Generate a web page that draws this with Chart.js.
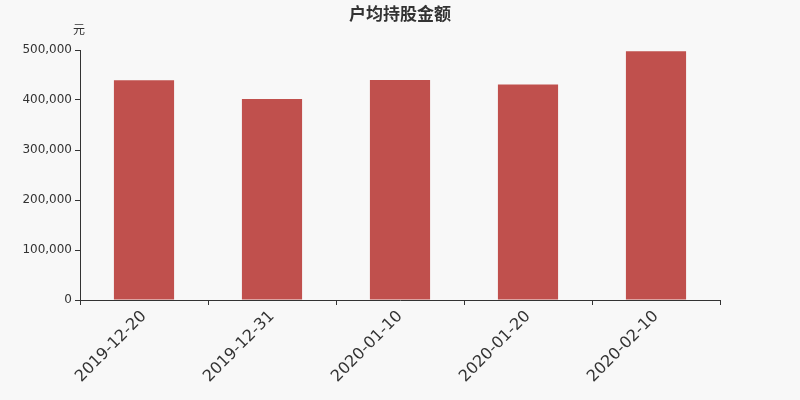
<!DOCTYPE html>
<html>
<head>
<meta charset="utf-8">
<script src="https://cdn.jsdelivr.net/npm/chart.js@4/dist/chart.umd.min.js"></script>
<style>
  html, body { margin: 0; padding: 0; background: #f8f8f8; }
  #wrap { width: 800px; height: 400px; }
</style>
</head>
<body>
<div id="wrap"><canvas id="c"></canvas></div>
<script>
var dates = ["2019-12-20", "2019-12-31", "2020-01-10", "2020-01-20", "2020-02-10"];
var amounts = [439500, 402000, 440000, 431000, 497500];
var yTicks = [0, 100000, 200000, 300000, 400000, 500000];
var chartTitle = "户均持股金额";
var unitLabel = "元";

var textPlugin = {
    id: 'textPlugin',
    afterDraw: function(chart){
        var ctx = chart.ctx;
        ctx.save();
        ctx.fillStyle = '#333';
        ctx.textAlign = 'center';
        ctx.textBaseline = 'middle';
        ctx.font = 'bold 17px "Noto Sans CJK SC"';
        ctx.fillText(chartTitle, 400, 14);
        ctx.font = '12px "Noto Sans CJK SC"';
        ctx.fillText(unitLabel, 79, 29);
        ctx.restore();
    }
};

var ctx = document.getElementById("c");
var myChart = new Chart(ctx, {
    type: 'bar',
    data: {
        labels: dates,
        datasets: [{
            label: chartTitle,
            data: amounts,
            backgroundColor: '#c0504d',
            categoryPercentage: 0.47,
            barPercentage: 1
        }]
    },
    options: {
        responsive: true,
        maintainAspectRatio: false,
        animation: false,
        layout: { padding: { top: 50, right: 80, left: 0, bottom: 0 } },
        plugins: {
            legend: { display: false },
            tooltip: { enabled: false }
        },
        scales: {
            x: {
                grid: { display: true, drawOnChartArea: false, offset: true, color: '#333', tickLength: 5 },
                border: { color: '#333', width: 1 },
                ticks: { color: '#333', font: { family: 'DejaVu Sans', size: 16 }, maxRotation: 45, minRotation: 45, padding: 2 },
                afterFit: function(scale){ scale.height = 100; }
            },
            y: {
                min: 0,
                max: 500000,
                afterBuildTicks: function(scale){
                    scale.ticks = yTicks.map(function(v){ return { value: v }; });
                },
                grid: { display: true, drawOnChartArea: false, color: '#333', tickLength: 5 },
                border: { color: '#333', width: 1 },
                ticks: {
                    color: '#333',
                    font: { family: 'DejaVu Sans', size: 12 },
                    padding: 3,
                    callback: function(v){ return v.toLocaleString('en-US'); }
                },
                afterFit: function(scale){ scale.width = 80; }
            }
        }
    },
    plugins: [textPlugin]
});
</script>
</body>
</html>
